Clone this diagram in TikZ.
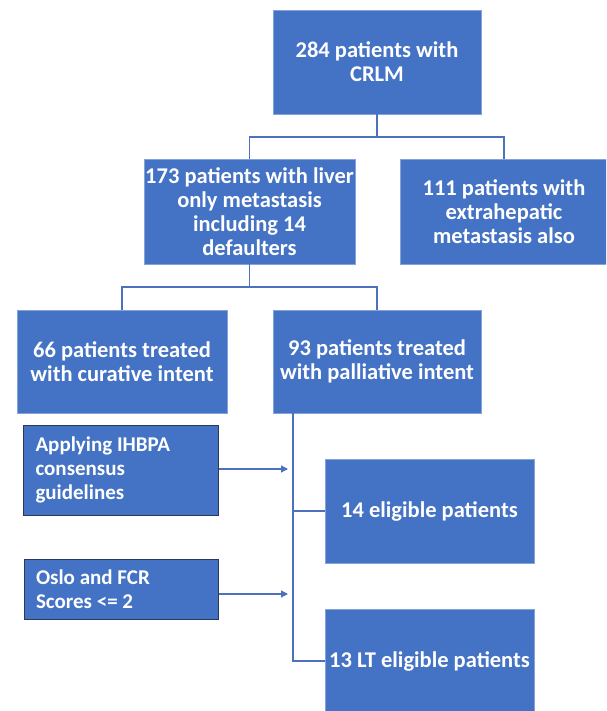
\documentclass[tikz,border=0pt]{standalone}
\usepackage{fontspec}
\setmainfont{Carlito}
\usetikzlibrary{arrows.meta}
\definecolor{boxblue}{HTML}{4472C4}
\definecolor{lineblue}{HTML}{4C72BD}
\definecolor{darkedge}{HTML}{2C3956}
\tikzset{
  mainbox/.style={rectangle, fill=boxblue, draw=boxblue!65!white, line width=0.6pt, text=white,
    font=\bfseries\fontsize{22.5}{24}\selectfont, align=center, inner sep=0pt},
  sidebox/.style={rectangle, fill=boxblue, draw=darkedge, line width=1pt, text=white,
    font=\bfseries\fontsize{21}{24}\selectfont, align=flush left, inner sep=0pt, text width=170pt},
  conn/.style={draw=lineblue, line width=1.3pt},
  arr/.style={conn, -{Triangle[length=7pt,width=7pt]}}
}
\begin{document}
\begin{tikzpicture}[x=1pt,y=-1pt]
\useasboundingbox (0,0) rectangle (606,711);
\fill[white] (0,0) rectangle (606,711);
\begin{scope}
\clip (0,0) rectangle (606,711);
\node[mainbox, minimum width=208pt, minimum height=104pt] (top) at (377,62) {284 patients with\\CRLM};
\node[mainbox, minimum width=211pt, minimum height=105pt] (b173) at (249.5,211.5) {173 patients with liver\\only metastasis\\including 14\\defaulters};
\node[mainbox, minimum width=208pt, minimum height=105pt] (b111) at (504,211.5) {111 patients with\\extrahepatic\\metastasis also};
\node[mainbox, minimum width=210pt, minimum height=103pt] (b66) at (122,361.5) {66 patients treated\\with curative intent};
\node[mainbox, minimum width=208pt, minimum height=103pt] (b93) at (377,361.5) {93 patients treated\\with palliative intent};
\node[mainbox, minimum width=209pt, minimum height=104pt] (b14) at (429.5,511) {14 eligible patients};
\node[mainbox, minimum width=209pt, minimum height=104pt] (b13) at (429.5,661) {13 LT eligible patients};
\node[sidebox, minimum width=195pt, minimum height=90pt] (app) at (120.5,470) {Applying IHBPA\\consensus\\guidelines};
\node[sidebox, minimum width=194pt, minimum height=60pt] (oslo) at (121,589) {Oslo and FCR\\Scores <= 2};
\end{scope}
\coordinate (j1) at (377,137);
\coordinate (j2) at (250,287);
\coordinate (sp) at (293,0);
\coordinate (a1) at (288,469);
\coordinate (a2) at (288,594);
\draw[conn] (top.south) -- (top.south |- j1);
\draw[conn] (b173.north) |- (b111.north |- j1) -- (b111.north);
\draw[conn] (b173.south) -- (b173.south |- j2);
\draw[conn] (b66.north) |- (b93.north |- j2) -- (b93.north);
\draw[conn] (b93.south -| sp) |- (b13.west);
\draw[conn] (sp |- b14.west) -- (b14.west);
\draw[arr] (app.east |- a1) -- (a1);
\draw[arr] (oslo.east |- a2) -- (a2);
\end{tikzpicture}
\end{document}
